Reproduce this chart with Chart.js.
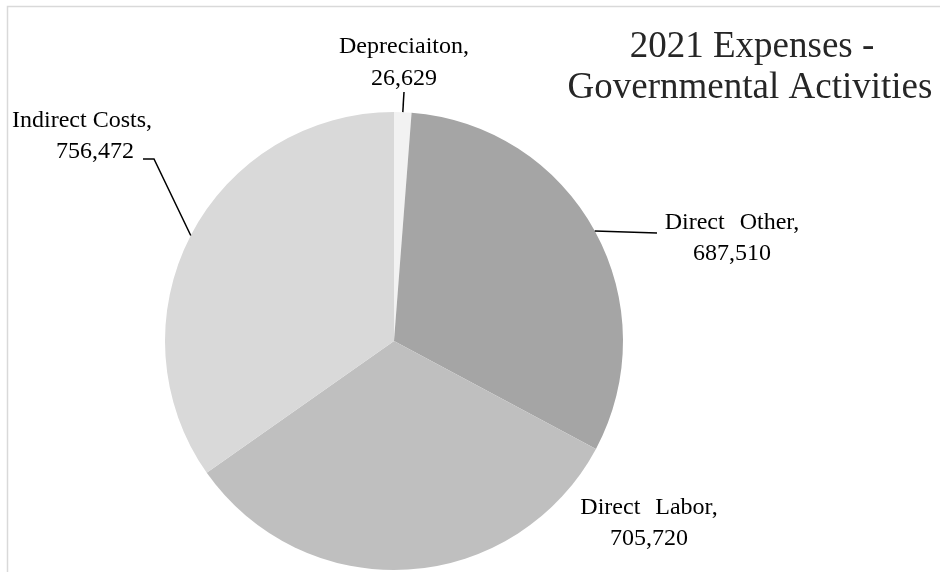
<!DOCTYPE html>
<html>
<head>
<meta charset="utf-8">
<script src="https://cdn.jsdelivr.net/npm/chart.js@4.4.1/dist/chart.umd.min.js"></script>
<style>
  html, body { margin: 0; padding: 0; background: #ffffff; }
  #wrap { position: relative; width: 940px; height: 572px; }
</style>
</head>
<body>
<div id="wrap"><canvas id="c"></canvas></div>
<script>
// ---- data ----
const categories = ["Depreciaiton", "Direct Other", "Direct Labor", "Indirect Costs"];
const expenses = [26629, 687510, 705720, 756472];
const sliceColors = ["#f2f2f2", "#a5a5a5", "#bfbfbf", "#d9d9d9"];
const titleLines = ["2021 Expenses -", "Governmental Activities"];

// label placement (text centres, word spacing and leader-line bend points, in canvas pixels)
const labelLayout = [
  { lines: [[404, 47], [404, 79]], ws: 0, leader: [[404, 92]] },
  { lines: [[732, 223], [732, 254]], ws: 9, leader: [[657, 233]] },
  { lines: [[649, 508], [649, 539]], ws: 9, leader: null },
  { lines: [[82, 121], [95, 152]], ws: 0, leader: [[154, 159], [143, 159]] }
];

const FONT = '"Liberation Serif", "Times New Roman", serif';

const framePlugin = {
  id: 'frame',
  beforeDraw(chart) {
    const ctx = chart.ctx;
    ctx.save();
    ctx.strokeStyle = '#d9d9d9';
    ctx.lineWidth = 1.5;
    ctx.beginPath();
    ctx.moveTo(7.5, 572);
    ctx.lineTo(7.5, 6.5);
    ctx.lineTo(940, 6.5);
    ctx.stroke();
    ctx.restore();
  }
};

const labelPlugin = {
  id: 'sliceLabels',
  afterDatasetsDraw(chart) {
    const ctx = chart.ctx;
    const meta = chart.getDatasetMeta(0);
    ctx.save();
    // title
    ctx.fillStyle = '#262626';
    ctx.font = '37px ' + FONT;
    ctx.textAlign = 'center';
    ctx.textBaseline = 'middle';
    ctx.fillText(titleLines[0], 752, 47);
    ctx.fillText(titleLines[1], 750, 88);

    meta.data.forEach((arc, i) => {
      const p = arc.getProps(['x', 'y', 'startAngle', 'endAngle', 'outerRadius'], true);
      const mid = (p.startAngle + p.endAngle) / 2;
      const ax = p.x + Math.cos(mid) * p.outerRadius;
      const ay = p.y + Math.sin(mid) * p.outerRadius;
      const L = labelLayout[i];
      if (L.leader) {
        ctx.strokeStyle = '#000000';
        ctx.lineWidth = 1.5;
        ctx.beginPath();
        ctx.moveTo(ax, ay);
        L.leader.forEach(pt => ctx.lineTo(pt[0], pt[1]));
        ctx.stroke();
      }
      const texts = [categories[i] + ',', expenses[i].toLocaleString('en-US')];
      ctx.fillStyle = '#000000';
      ctx.font = '24px ' + FONT;
      ctx.textAlign = 'center';
      ctx.textBaseline = 'middle';
      try { ctx.wordSpacing = L.ws + 'px'; } catch (e) {}
      texts.forEach((t, k) => ctx.fillText(t, L.lines[k][0], L.lines[k][1]));
      try { ctx.wordSpacing = '0px'; } catch (e) {}
    });
    ctx.restore();
  }
};

new Chart(document.getElementById('c'), {
  type: 'pie',
  data: {
    labels: categories,
    datasets: [{
      data: expenses,
      backgroundColor: sliceColors,
      borderWidth: 0
    }]
  },
  options: {
    responsive: true,
    maintainAspectRatio: false,
    animation: false,
    layout: { padding: { left: 165, right: 317, top: 112, bottom: 2 } },
    plugins: {
      legend: { display: false },
      tooltip: { enabled: false },
      title: { display: false }
    }
  },
  plugins: [framePlugin, labelPlugin]
});
</script>
</body>
</html>
